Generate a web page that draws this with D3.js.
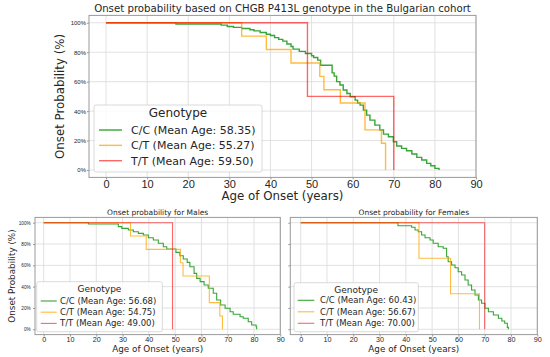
<!DOCTYPE html>
<html>
<head>
<meta charset="utf-8">
<script src="https://cdn.jsdelivr.net/npm/d3@7/dist/d3.min.js"></script>
<style>
	body { margin: 0; background: #fff; }
	svg { display: block; font-family: "DejaVu Sans", sans-serif; }
</style>
</head>
<body>
<svg id="chart" width="550" height="357"></svg>
<script>
var genotypes = ["C/C", "C/T", "T/T"];
var colors = ["#2ca02c", "#ffa500", "#ff0000"];
var opac = [0.95, 0.75, 0.6];

var xTicks = [0, 10, 20, 30, 40, 50, 60, 70, 80, 90];
var yTicks = [0, 20, 40, 60, 80, 100];

// whole cohort
var allMeans = [58.35, 55.27, 59.50];
var allCCAge = [17, 28, 29.5, 31, 33, 35, 36, 37.5, 39, 40, 41, 42, 43, 44, 45, 45.5, 47, 48.5, 50, 50.5,
	51.5, 52.2, 55, 55.5, 56.1, 56.9, 57.7, 58.6, 59.4, 60.6, 61.2, 61.8, 62.6, 63.4, 64.2, 65.4, 66.6, 67.5,
	68.7, 69.9, 70.7, 71.9, 73.1, 74.4, 75.6, 76.8, 78, 79, 80, 81];
var allCCProb = [99.2, 98.4, 97.5, 96.9, 96.1, 95.3, 94.5, 93.4, 92.2, 91.4, 89.9, 88.7, 87.5, 85.6, 83.9, 82.1,
	80.6, 79.1, 77.6, 76.4, 74.6, 71.2, 66.0, 63.8, 60.0, 57.7, 54.3, 52.0, 49.8, 47.5, 45.5, 44.1, 40.7, 37.3,
	33.9, 30.5, 27.2, 24.4, 22.6, 19.2, 16.3, 14.7, 13.1, 10.9, 8.6, 6.8, 4.5, 2.9, 1.1, 0];
var allCTAge = [33, 39, 45, 52, 53, 57, 63, 67, 68];
var allCTProb = [90.9, 81.8, 72.7, 63.6, 54.5, 45.5, 27.3, 18.2, 0];
var allTTAge = [49, 70];
var allTTProb = [50, 0];

// males
var maleMeans = [56.68, 54.75, 49.00];
var maleCCAge = [17, 28.4, 29.7, 32.2, 34.1, 36, 37.9, 39.8, 41.7, 43.6, 45.5, 46.8, 50.3, 51.8, 53.1, 54.6,
	55.6, 57.2, 58.2, 59.5, 61, 62.6, 64.5, 65.8, 67.3, 69, 70.9, 72.1, 74.7, 75.9, 77.8, 79.1, 80.8, 81];
var maleCCProb = [98.8, 96.3, 94.7, 93.2, 91.6, 90, 88.5, 85.9, 83.8, 80.7, 77.5, 75.3, 72.2, 69, 65.9, 62.8,
	58.7, 52.5, 47.8, 44.7, 41.6, 38.5, 33.8, 27.5, 22.8, 19.7, 16.5, 14.1, 11.8, 10.3, 7.1, 4, 2.4, 0];
var maleCTAge = [33, 39, 52, 53, 63, 67, 68];
var maleCTProb = [87.5, 75, 62.5, 50, 25, 12.5, 0];
var maleTTAge = [49];
var maleTTProb = [0];

// females
var femaleMeans = [60.43, 56.67, 70.00];
var femaleCCAge = [37, 42.2, 43.5, 44.7, 46, 47.3, 49.2, 50.4, 52.3, 54.2, 55.5, 56.1, 57.4, 58.7, 59.9, 61.2,
	62.5, 63.7, 65, 66.3, 67.6, 68.8, 70.1, 71.4, 73.3, 75.2, 76.5, 77.6, 78.6, 79];
var femaleCCProb = [97.1, 95.7, 93.2, 91.6, 88.5, 85.9, 83.8, 80.7, 77.5, 76, 68.1, 63.4, 60.3, 57.8, 54, 50.9,
	46.2, 41.6, 36.9, 32.2, 27.5, 24.4, 19.7, 16.5, 13.4, 10.3, 7.8, 5.6, 1.8, 0];
var femaleCTAge = [45, 57, 68];
var femaleCTProb = [66.7, 33.3, 0];
var femaleTTAge = [70];
var femaleTTProb = [0];

var svg = d3.select("#chart");
svg.append("rect").attr("width", 550).attr("height", 357).attr("fill", "#fff");

function steps(ages, probs) {
	return [[0, 100]].concat(ages.map(function(a, i) { return [a, probs[i]]; }));
}

function panel(c) {
	var x = d3.scaleLinear().domain(c.xDomain).range([c.left, c.right]);
	var y = d3.scaleLinear().domain([-5, 105]).range([c.bottom, c.top]);
	var g = svg.append("g");

	// сетка
	g.append("g").selectAll("line").data(xTicks).enter().append("line")
		.attr("x1", function(d) { return x(d); }).attr("x2", function(d) { return x(d); })
		.attr("y1", c.top).attr("y2", c.bottom)
		.attr("stroke", "#dedede").attr("stroke-width", 0.9);
	g.append("g").selectAll("line").data(yTicks).enter().append("line")
		.attr("y1", function(d) { return y(d); }).attr("y2", function(d) { return y(d); })
		.attr("x1", c.left).attr("x2", c.right)
		.attr("stroke", "#dedede").attr("stroke-width", 0.9);

	var xAxis = d3.axisBottom(x).tickValues(xTicks).tickSize(2).tickPadding(c.xPad);
	var yAxis = d3.axisLeft(y).tickValues(yTicks).tickSize(2).tickPadding(c.yPad)
		.tickFormat(function(d) { return c.yLabels ? d + "%" : ""; });

	var gx = g.append("g").attr("transform", "translate(0," + c.bottom + ")").call(xAxis);
	gx.selectAll("text").attr("font-size", c.xTickFont).attr("font-family", null).attr("fill", "#262626");
	var gy = g.append("g").attr("transform", "translate(" + c.left + ",0)").call(yAxis);
	gy.selectAll("text").attr("font-size", c.yTickFont).attr("font-family", null).attr("fill", "#262626");
	g.selectAll(".domain").remove();
	g.selectAll(".tick line").attr("stroke", "#999");

	g.append("rect")
		.attr("x", c.left).attr("y", c.top)
		.attr("width", c.right - c.left).attr("height", c.bottom - c.top)
		.attr("fill", "none").attr("stroke", "#9a9a9a").attr("stroke-width", 1);

	var line = d3.line()
		.x(function(d) { return x(d[0]); })
		.y(function(d) { return y(d[1]); })
		.curve(d3.curveStepAfter);

	c.series.forEach(function(s, i) {
		g.append("path")
			.attr("d", line(steps(s[0], s[1])))
			.attr("fill", "none")
			.attr("stroke", colors[i])
			.attr("stroke-opacity", opac[i])
			.attr("stroke-width", c.lw);
	});

	var cx = (c.left + c.right) / 2;
	g.append("text").attr("x", cx).attr("y", c.titleY)
		.attr("text-anchor", "middle").attr("font-size", c.titleFont).attr("fill", "#262626")
		.text(c.title);
	g.append("text").attr("x", cx).attr("y", c.xLabelY)
		.attr("text-anchor", "middle").attr("font-size", c.labelFont).attr("fill", "#262626")
		.text("Age of Onset (years)");
	if (c.yLabels)
		g.append("text")
			.attr("transform", "translate(" + c.yLabelX + "," + ((c.top + c.bottom) / 2) + ") rotate(-90)")
			.attr("text-anchor", "middle").attr("font-size", c.labelFont).attr("fill", "#262626")
			.text("Onset Probability (%)");

	// легенда
	var L = c.legend;
	var lg = g.append("g");
	lg.append("rect")
		.attr("x", L.x0).attr("y", L.y0)
		.attr("width", L.x1 - L.x0).attr("height", L.y1 - L.y0)
		.attr("rx", 2).attr("fill", "#fff").attr("fill-opacity", 0.85)
		.attr("stroke", "#d0d0d0").attr("stroke-width", 0.8);
	lg.append("text").attr("x", (L.x0 + L.x1) / 2).attr("y", L.titleY)
		.attr("text-anchor", "middle").attr("font-size", L.titleFont).attr("fill", "#262626")
		.text("Genotype");
	genotypes.forEach(function(gt, i) {
		var ry = L.rowY + i * L.rowH;
		lg.append("line")
			.attr("x1", L.hx0).attr("x2", L.hx1).attr("y1", ry).attr("y2", ry)
			.attr("stroke", colors[i]).attr("stroke-opacity", opac[i]).attr("stroke-width", c.lw);
		lg.append("text").attr("x", L.tx).attr("y", ry).attr("dy", "0.36em")
			.attr("font-size", L.font).attr("fill", "#262626")
			.text(gt + " (Mean Age: " + c.means[i].toFixed(2) + ")");
	});
}

panel({
	left: 89, right: 476, top: 15.4, bottom: 177.4, xDomain: [-4.14, 90],
	xPad: 0.3, yPad: 1, xTickFont: 11, yTickFont: 6, yLabels: true, lw: 1.4,
	title: "Onset probability based on CHGB P413L genotype in the Bulgarian cohort",
	titleY: 12.2, titleFont: 10.2, xLabelY: 200, labelFont: 11.8, yLabelX: 64,
	means: allMeans,
	series: [[allCCAge, allCCProb], [allCTAge, allCTProb], [allTTAge, allTTProb]],
	legend: {x0: 94, x1: 262, y0: 105, y1: 172, titleY: 116.5, titleFont: 12,
		rowY: 130, rowH: 15.35, hx0: 99, hx1: 122, tx: 131, font: 11}
});

panel({
	left: 35, right: 280.3, top: 217.4, bottom: 334.6, xDomain: [-3.31, 90],
	xPad: 0, yPad: 2.3, xTickFont: 7.2, yTickFont: 4.7, yLabels: true, lw: 1.1,
	title: "Onset probability for Males",
	titleY: 214.8, titleFont: 7.5, xLabelY: 352, labelFont: 8.8, yLabelX: 14.5,
	means: maleMeans,
	series: [[maleCCAge, maleCCProb], [maleCTAge, maleCTProb], [maleTTAge, maleTTProb]],
	legend: {x0: 36.7, x1: 162.3, y0: 281.7, y1: 331.7, titleY: 292, titleFont: 9,
		rowY: 301, rowH: 11.2, hx0: 40.7, hx1: 56.7, tx: 60, font: 8.5}
});

panel({
	left: 290.3, right: 537.3, top: 217.4, bottom: 334.6, xDomain: [-3.96, 90],
	xPad: 0, yPad: 2.3, xTickFont: 7.2, yTickFont: 4.7, yLabels: false, lw: 1.1,
	title: "Onset probability for Females",
	titleY: 214.8, titleFont: 7.5, xLabelY: 352, labelFont: 8.8,
	means: femaleMeans,
	series: [[femaleCCAge, femaleCCProb], [femaleCTAge, femaleCTProb], [femaleTTAge, femaleTTProb]],
	legend: {x0: 294, x1: 418.3, y0: 282.7, y1: 331.7, titleY: 292.5, titleFont: 9,
		rowY: 300.3, rowH: 11.5, hx0: 297.7, hx1: 314.3, tx: 320, font: 8.5}
});
</script>
</body>
</html>
